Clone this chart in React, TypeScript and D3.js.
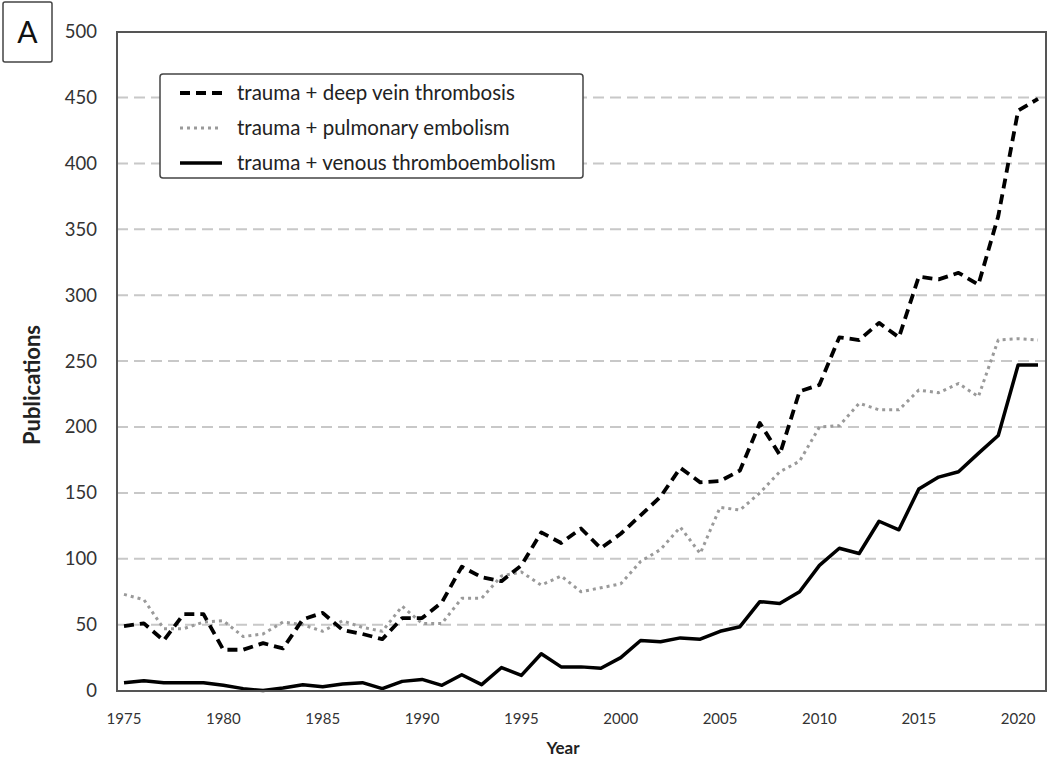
import React, { useEffect, useRef } from 'react';
import * as d3 from 'd3';

// publication counts per year
const years = d3.range(1975, 2022);

const dvt = [49, 51, 38, 58, 58, 31, 31, 36, 32, 54, 59, 46, 43, 39, 55,
  55, 67, 94, 86, 83, 95, 120, 112, 123, 108, 119, 133, 147, 169, 158,
  159, 167, 203, 179, 227, 232, 268, 266, 279, 268, 314, 312, 317, 308, 360,
  440, 449];

const pe = [73, 69, 47, 47, 52, 53, 41, 43, 52, 50, 45, 53, 48, 45, 64,
  51, 51, 70, 70, 87, 90, 80, 87, 75, 78, 81, 98, 107, 124, 104,
  139, 137, 150, 166, 174, 200, 201, 218, 213, 213, 228, 226, 233, 223, 266,
  267, 266];

const vte = [6, 7.5, 6, 6, 6, 4, 1.5, 0, 2, 4.5, 3, 5, 6, 1.5, 7,
  8.5, 4, 12, 4.5, 17.5, 11.5, 28, 18, 18, 17, 25, 38, 37, 40, 39,
  45, 48.5, 67.5, 66, 75, 95, 108, 104, 128.5, 122, 153, 162, 166, 180, 193.5,
  247, 247];

const yTicks = [0, 50, 100, 150, 200, 250, 300, 350, 400, 450, 500];
const xTicks = [1975, 1980, 1985, 1990, 1995, 2000, 2005, 2010, 2015, 2020];

const legendItems = [
  { label: 'trauma + deep vein thrombosis', key: 'dvt' },
  { label: 'trauma + pulmonary embolism', key: 'pe' },
  { label: 'trauma + venous thromboembolism', key: 'vte' },
];

const styles: any = {
  dvt: { stroke: '#000', width: 3.8, dash: '10,6' },
  pe: { stroke: '#9a9a9a', width: 3, dash: '3,4' },
  vte: { stroke: '#000', width: 3.5, dash: null },
};

const FONT = 'Lato, "Open Sans", sans-serif';

const App = () => {
  const svgRef = useRef<SVGSVGElement>(null);

  useEffect(() => {
    const svg = d3.select(svgRef.current);
    svg.selectAll('*').remove();

    const frame = { left: 117, top: 32, right: 1046, bottom: 691 };

    const x = d3.scaleLinear().domain([1975, 2021]).range([124, 1038]);
    const y = d3.scaleLinear().domain([0, 500]).range([690.6, 31.6]);

    svg.append('rect').attr('width', 1050).attr('height', 760).attr('fill', '#fff');

    // gridlines
    svg.append('g')
      .selectAll('line')
      .data(yTicks.filter(d => d > 0 && d < 500))
      .join('line')
      .attr('x1', frame.left)
      .attr('x2', frame.right)
      .attr('y1', d => y(d))
      .attr('y2', d => y(d))
      .attr('stroke', '#c8c8c8')
      .attr('stroke-width', 2)
      .attr('stroke-dasharray', '11,6');

    // lines
    const series: any = { dvt, pe, vte };
    const line = d3.line<number>()
      .x((d, i) => x(years[i]))
      .y(d => y(d));

    ['pe', 'dvt', 'vte'].forEach(k => {
      const s = styles[k];
      svg.append('path')
        .datum(series[k])
        .attr('d', line)
        .attr('fill', 'none')
        .attr('stroke', s.stroke)
        .attr('stroke-width', s.width)
        .attr('stroke-linejoin', 'round')
        .attr('stroke-dasharray', s.dash);
    });

    // plot frame
    svg.append('rect')
      .attr('x', frame.left)
      .attr('y', frame.top)
      .attr('width', frame.right - frame.left)
      .attr('height', frame.bottom - frame.top)
      .attr('fill', 'none')
      .attr('stroke', '#555')
      .attr('stroke-width', 2);

    // y tick labels
    svg.append('g')
      .selectAll('text')
      .data(yTicks)
      .join('text')
      .attr('x', 97)
      .attr('y', d => y(d))
      .attr('dy', '0.35em')
      .attr('text-anchor', 'end')
      .attr('font-family', FONT)
      .attr('font-size', 18.5)
      .attr('fill', '#333')
      .text(d => d);

    // x tick labels
    svg.append('g')
      .selectAll('text')
      .data(xTicks)
      .join('text')
      .attr('x', d => x(d))
      .attr('y', 724)
      .attr('text-anchor', 'middle')
      .attr('font-family', FONT)
      .attr('font-size', 15)
      .attr('fill', '#333')
      .text(d => d);

    // axis titles
    svg.append('text')
      .attr('x', 563)
      .attr('y', 754)
      .attr('text-anchor', 'middle')
      .attr('font-family', FONT)
      .attr('font-weight', 'bold')
      .attr('font-size', 17)
      .attr('fill', '#222')
      .text('Year');

    svg.append('text')
      .attr('transform', 'translate(40,385) rotate(-90)')
      .attr('text-anchor', 'middle')
      .attr('font-family', FONT)
      .attr('font-weight', 'bold')
      .attr('font-size', 22)
      .attr('fill', '#222')
      .text('Publications');

    // panel letter
    svg.append('rect')
      .attr('x', 3).attr('y', 2)
      .attr('width', 49).attr('height', 60)
      .attr('rx', 2)
      .attr('fill', '#fff')
      .attr('stroke', '#444')
      .attr('stroke-width', 1.5);
    svg.append('text')
      .attr('x', 27.5)
      .attr('y', 43)
      .attr('text-anchor', 'middle')
      .attr('font-family', FONT)
      .attr('font-size', 30)
      .attr('fill', '#111')
      .text('A');

    // legend
    const lg = svg.append('g');
    lg.append('rect')
      .attr('x', 160).attr('y', 74)
      .attr('width', 423).attr('height', 104)
      .attr('rx', 3)
      .attr('fill', '#fff')
      .attr('stroke', '#444')
      .attr('stroke-width', 1.5);
    legendItems.forEach((it, i) => {
      const s = styles[it.key];
      const ly = 93 + i * 35;
      lg.append('line')
        .attr('x1', 180).attr('x2', 222)
        .attr('y1', ly).attr('y2', ly)
        .attr('stroke', s.stroke)
        .attr('stroke-width', s.width)
        .attr('stroke-dasharray', s.dash);
      lg.append('text')
        .attr('x', 237)
        .attr('y', ly)
        .attr('dy', '0.35em')
        .attr('font-family', FONT)
        .attr('font-size', 20.5)
        .attr('fill', '#222')
        .text(it.label);
    });
  }, []);

  return (
    <svg ref={svgRef} width={1050} height={760}
      style={{ position: 'absolute', left: 0, top: 0 }} />
  );
};

export default App;
